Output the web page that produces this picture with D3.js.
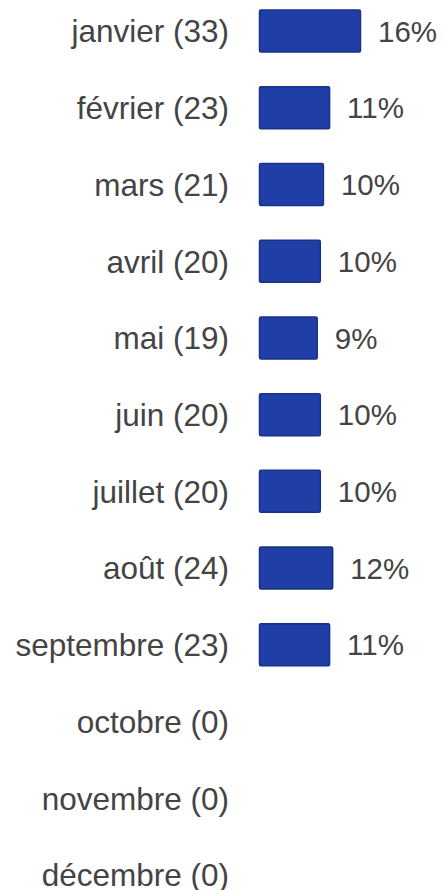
<!DOCTYPE html>
<html>
<head>
<meta charset="utf-8">
<script src="https://cdn.jsdelivr.net/npm/d3@7"></script>
<style>
  body { margin: 0; background: #fff; overflow: hidden; }
  text { font-family: "Liberation Sans", Arial, sans-serif; fill: #444; }
</style>
</head>
<body>
<svg width="443" height="890"></svg>
<script>
var months = ["janvier", "février", "mars", "avril", "mai", "juin", "juillet",
              "août", "septembre", "octobre", "novembre", "décembre"];
var counts = [33, 23, 21, 20, 19, 20, 20, 24, 23, 0, 0, 0];
var pcts = ["16%", "11%", "10%", "10%", "9%", "10%", "10%", "12%", "11%", "", "", ""];

var rows = months.map(function(m, i) {
  return { month: m, count: counts[i], pct: pcts[i] };
});

var svg = d3.select("svg");
var barLeft = 259, labelFs = 31.5, pctFs = 29.5, barH = 42;

var x = d3.scaleLinear().domain([0, d3.max(counts)]).range([0, 102]);
var y = d3.scalePoint().domain(months).range([31, 875]);

// month labels
svg.selectAll(".lbl")
  .data(rows)
  .enter().append("text")
  .attr("class", "lbl")
  .attr("x", 229)
  .attr("y", function(d) { return y(d.month) + labelFs * 0.36; })
  .attr("text-anchor", "end")
  .attr("font-size", labelFs + "px")
  .text(function(d) { return d.month + " (" + d.count + ")"; });

var withBars = rows.filter(function(d) { return d.count > 0; });

svg.selectAll(".bar")
  .data(withBars)
  .enter().append("rect")
  .attr("class", "bar")
  .attr("x", barLeft + 0.5)
  .attr("y", function(d) { return y(d.month) - barH / 2; })
  .attr("width", function(d) { return x(d.count) - 1; })
  .attr("height", barH)
  .attr("rx", 1.5)
  .attr("fill", "#1f3fa6")
  .attr("stroke", "#1a3286")
  .attr("stroke-width", 1.5);

svg.selectAll(".pct")
  .data(withBars)
  .enter().append("text")
  .attr("class", "pct")
  .attr("x", function(d) { return barLeft + x(d.count) + 17; })
  .attr("y", function(d) { return y(d.month) + pctFs * 0.36; })
  .attr("font-size", pctFs + "px")
  .text(function(d) { return d.pct; });
</script>
</body>
</html>
